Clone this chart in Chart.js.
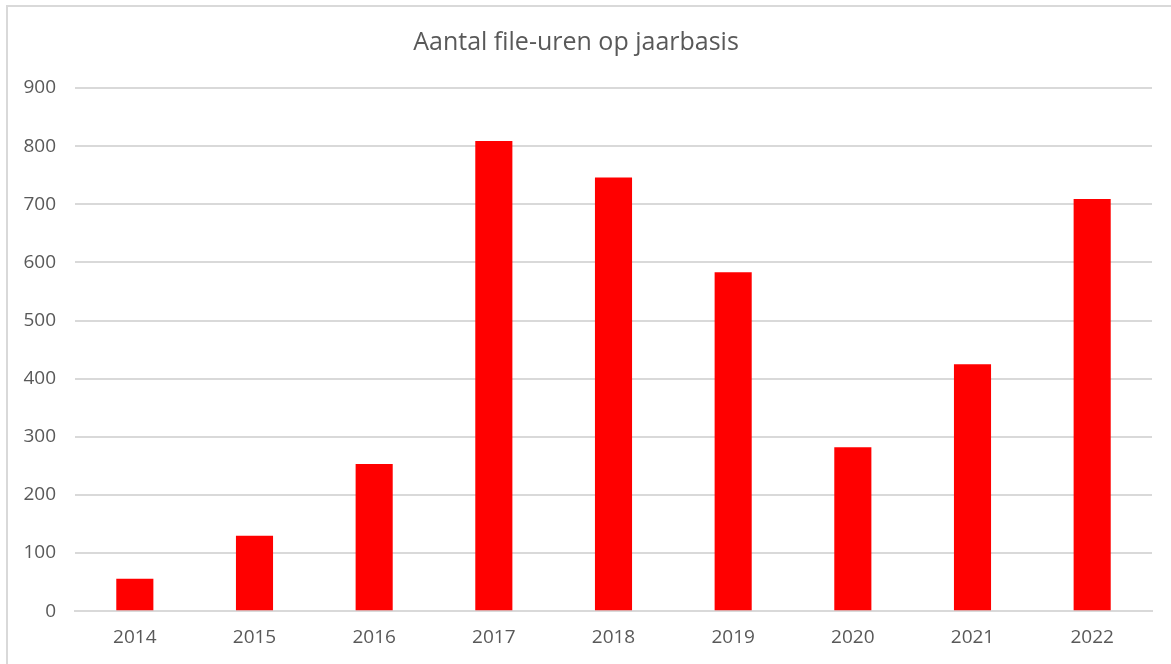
<!DOCTYPE html>
<html>
<head>
<meta charset="utf-8">
<script src="https://cdn.jsdelivr.net/npm/chart.js@4"></script>
<style>
    html, body { margin: 0; padding: 0; background: #fff; overflow: hidden; }
    #wrap { position: relative; width: 1171px; height: 664px; }
    #frame { position: absolute; left: 6px; top: 5px; width: 1200px; height: 700px; border: 2px solid #d9d9d9; box-sizing: border-box; }
    #myChart { position: absolute; left: 0; top: 0; }
</style>
</head>
<body>
<div id="wrap">
    <div id="frame"></div>
    <canvas id="myChart" width="1171" height="664"></canvas>
</div>
<script>
const years = ['2014', '2015', '2016', '2017', '2018', '2019', '2020', '2021', '2022']
const fileUren = [56, 130, 253, 809, 746, 583, 282, 425, 709]
const chartTitle = 'Aantal file-uren op jaarbasis'

const textColor = '#595959'
const gridColor = '#d9d9d9'
const fontFamily = "'Open Sans', 'Liberation Sans', sans-serif"

const ctx = document.getElementById('myChart').getContext('2d')
const chart = new Chart(ctx, {
    type: 'bar',
    data: {
        labels: years,
        datasets: [{
            label: 'File-uren',
            data: fileUren,
            backgroundColor: '#ff0000',
            borderWidth: 0,
            categoryPercentage: 1,
            barPercentage: 0.31
        }]
    },
    options: {
        responsive: false,
        animation: false,
        layout: {
            padding: { left: 0, right: 19, top: 0, bottom: 0 }
        },
        plugins: {
            legend: { display: false },
            tooltip: { enabled: false },
            title: {
                display: true,
                text: chartTitle,
                color: textColor,
                font: { family: fontFamily, size: 25, weight: 'normal' },
                padding: { top: 28, bottom: 30 }
            }
        },
        scales: {
            x: {
                grid: { display: false, drawTicks: false },
                border: { display: true, color: gridColor, width: 2 },
                ticks: {
                    color: textColor,
                    font: { family: fontFamily, size: 19 },
                    padding: 15,
                    maxRotation: 0
                }
            },
            y: {
                min: 0,
                max: 900,
                afterFit: (scale) => { scale.width = 75 },
                grid: { color: gridColor, lineWidth: 2, drawTicks: false },
                border: { display: false },
                ticks: {
                    stepSize: 100,
                    color: textColor,
                    font: { family: fontFamily, size: 19 },
                    padding: 19
                }
            }
        }
    }
})
</script>
</body>
</html>
